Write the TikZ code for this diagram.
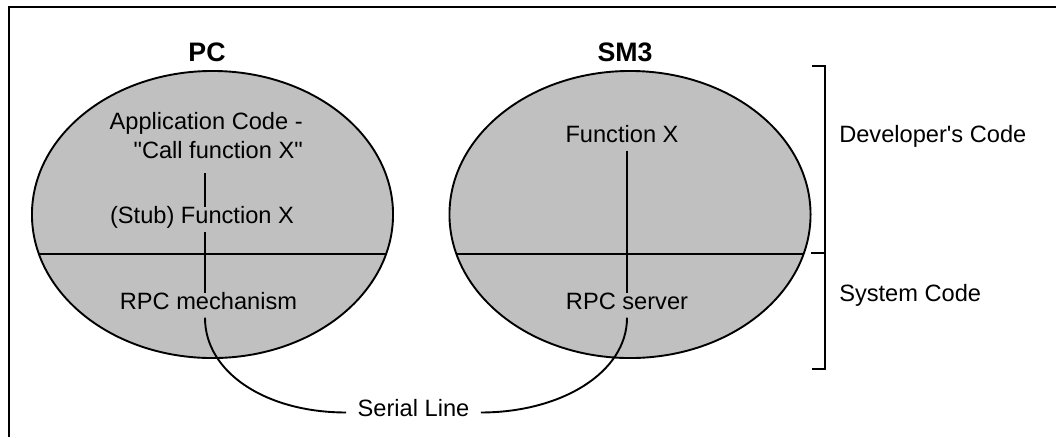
\documentclass[tikz,border=0pt]{standalone}
\usepackage{fontspec}
\setmainfont{Liberation Sans}
\usetikzlibrary{shapes.geometric,positioning}
\definecolor{boxgray}{RGB}{192,192,192}

\begin{document}
\begin{tikzpicture}[x=0.025cm, y=-0.025cm,
    txt/.style={font=\fontsize{16.8}{20.6}\selectfont, inner sep=0pt},
    lbl/.style={txt, inner ysep=3.5pt, text height=0.75em, text depth=0.25em},
    ttl/.style={font=\fontsize{19}{23}\selectfont\bfseries, inner sep=0pt},
    wire/.style={line width=1.35pt},
    machine/.style={draw, ellipse, fill=boxgray, line width=1.35pt, inner sep=0pt,
        minimum width=9.025cm, minimum height=7.175cm,
        path picture={\draw[wire] ([yshift=-28.1pt]path picture bounding box.west) -- ([yshift=-28.1pt]path picture bounding box.east);}}]
    \useasboundingbox (0,0) rectangle (1056,437);
    % Frame
    \draw[wire] (9,437) -- (9,7) -- (1056,7);

    % Machines
    \node[machine] (pc) at (212.5,214.5) {};
    \node[machine] (sm) at (630,214.5) {};
    \node[ttl, anchor=base] (pctitle) at (207,61) {PC};
    \node[ttl, anchor=base] (smtitle) at (625,61) {SM3};
    \coordinate (pcaxis) at (205,0);
    \coordinate (smaxis) at (627,0);

    % PC side
    \node[txt, align=right, anchor=north east] (app) at (303,112) {Application Code -\\\textquotedbl Call function X\textquotedbl};
    \node[lbl, anchor=base] (stub) at (202,223) {(Stub) Function X};
    \node[lbl, anchor=base] (rpcmech) at (208.5,309) {RPC mechanism};

    % SM3 side
    \node[lbl, anchor=base] (funcx) at (622,142) {Function X};
    \node[lbl, anchor=base] (rpcsrv) at (627,309) {RPC server};

    % Serial line
    \node[lbl, inner xsep=8pt, anchor=base] (serial) at (413.5,416) {Serial Line};

    % Brackets
    \draw[wire] (812,66) -- (825,66) -- (825,369) -- (812,369);
    \draw[wire] (811,253) -- (825,253);
    \node[lbl, anchor=base west] (dev) at (839,142) {Developer\textquotesingle s Code};
    \node[lbl, anchor=base west] (sys) at (839,301) {System Code};

    % Connectors
    \draw[wire, shorten <=10pt] (app.south -| pcaxis) -- (stub.north -| pcaxis);
    \draw[wire] (stub.south -| pcaxis) -- (rpcmech.north -| pcaxis);
    \draw[wire] (funcx.south -| smaxis) -- (rpcsrv.north -| smaxis);
    \draw[wire] (rpcmech.south -| pcaxis) .. controls +(0,55) and +(-80,0) .. (serial.west);
    \draw[wire] (rpcsrv.south -| smaxis) .. controls +(0,55) and +(80,0) .. (serial.east);
\end{tikzpicture}
\end{document}
